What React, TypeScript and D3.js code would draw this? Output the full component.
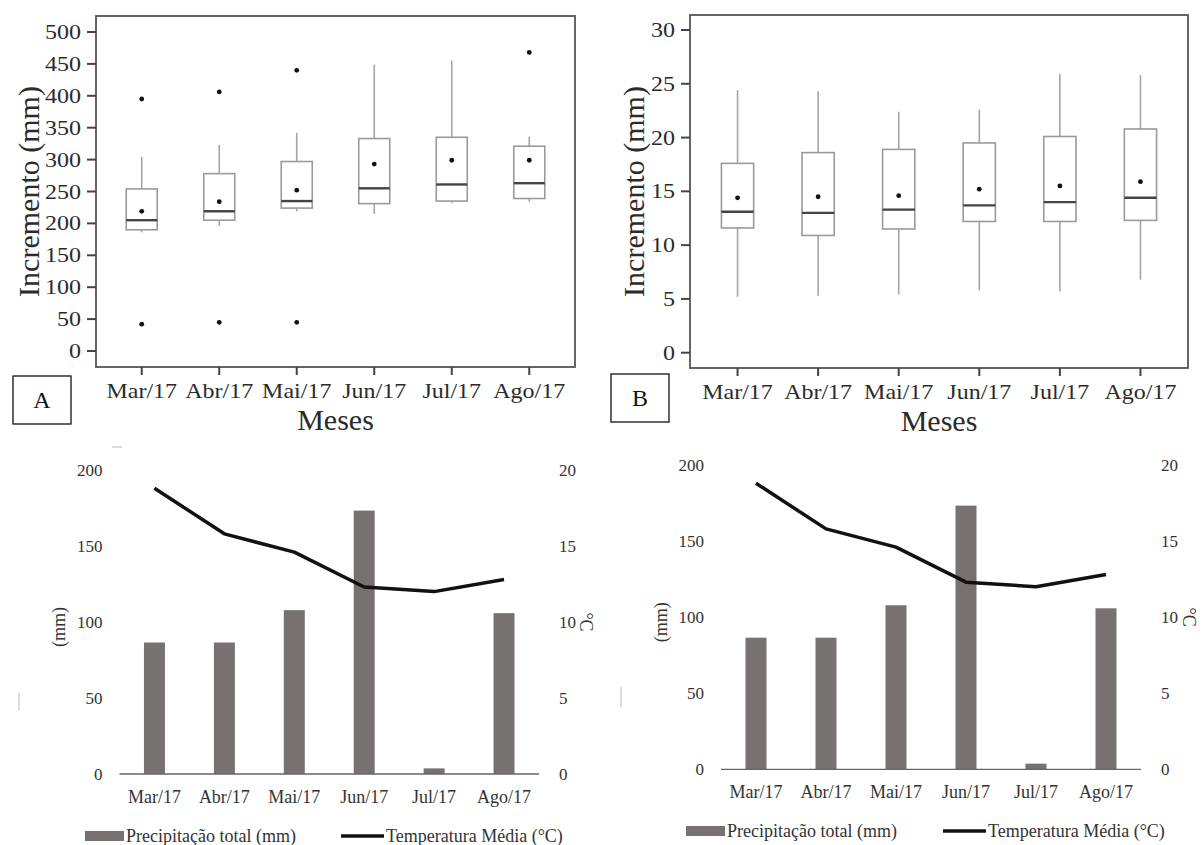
import React, { useRef, useEffect } from "react";
import * as d3 from "d3";

// Categories shared by all four panels
const months = ["Mar/17", "Abr/17", "Mai/17", "Jun/17", "Jul/17", "Ago/17"];

// Panel A — Incremento (mm), boxplot statistics
const aWhiskerLow = [186, 196, 219, 215, 232, 234];
const aQ1 = [190, 205, 224, 231, 235, 239];
const aMedian = [205, 219, 235, 255, 261, 263];
const aQ3 = [254, 278, 297, 333, 335, 321];
const aWhiskerHigh = [304, 323, 342, 449, 455, 336];
const aMean = [219, 234, 252, 293, 299, 299];
const aOutliers = [[395, 42], [406, 45], [440, 45], [], [], [468]];
const aTicks = [0, 50, 100, 150, 200, 250, 300, 350, 400, 450, 500];

// Panel B — Incremento (mm), boxplot statistics
const bWhiskerLow = [5.2, 5.3, 5.4, 5.8, 5.7, 6.8];
const bQ1 = [11.6, 10.9, 11.5, 12.2, 12.2, 12.3];
const bMedian = [13.1, 13.0, 13.3, 13.7, 14.0, 14.4];
const bQ3 = [17.6, 18.6, 18.9, 19.5, 20.1, 20.8];
const bWhiskerHigh = [24.4, 24.3, 22.4, 22.6, 25.9, 25.8];
const bMean = [14.4, 14.5, 14.6, 15.2, 15.5, 15.9];
const bOutliers = [[], [], [], [], [], []];
const bTicks = [0, 5, 10, 15, 20, 25, 30];

// Climate panels
const precipitacao = [86.5, 86.5, 107.8, 173.3, 3.7, 105.8];
const temperatura = [18.8, 15.8, 14.6, 12.3, 12.0, 12.8];
const precTicks = [0, 50, 100, 150, 200];
const tempTicks = [0, 5, 10, 15, 20];

const SERIF = "'Liberation Serif', 'DejaVu Serif', serif";

function stretchedText(g, x, y, txt, size, anchor, sx = 1.2) {
  g.append("g")
    .attr("transform", `translate(${x},${y}) scale(${sx},1)`)
    .append("text")
    .attr("text-anchor", anchor)
    .attr("font-family", SERIF)
    .attr("font-size", size)
    .attr("fill", "#2b2b2b")
    .text(txt);
}

function drawBoxPanel(svg, cfg) {
  const g = svg.append("g");
  const x = d3.scalePoint().domain(months).range([cfg.left, cfg.right]).padding(0.59);
  const y = d3.scaleLinear().domain(cfg.domain).range([cfg.y0, cfg.y1]);
  const bw = x.step() * 0.4;

  // frame
  g.append("rect")
    .attr("x", cfg.left)
    .attr("y", cfg.top)
    .attr("width", cfg.right - cfg.left)
    .attr("height", cfg.bottom - cfg.top)
    .attr("fill", "none")
    .attr("stroke", "#555")
    .attr("stroke-width", 1.8);

  // y ticks
  cfg.ticks.forEach((t) => {
    g.append("line")
      .attr("x1", cfg.left - 9)
      .attr("x2", cfg.left)
      .attr("y1", y(t))
      .attr("y2", y(t))
      .attr("stroke", "#444")
      .attr("stroke-width", 2);
    stretchedText(g, cfg.left - 15, y(t) + 7, String(t), 20, "end");
  });

  // x ticks
  months.forEach((m) => {
    g.append("line")
      .attr("x1", x(m))
      .attr("x2", x(m))
      .attr("y1", cfg.bottom)
      .attr("y2", cfg.bottom + 8)
      .attr("stroke", "#444")
      .attr("stroke-width", 2);
    stretchedText(g, x(m), cfg.bottom + 31, m, 20, "middle");
  });

  // boxes
  months.forEach((m, i) => {
    const cx = x(m);
    g.append("line")
      .attr("x1", cx).attr("x2", cx)
      .attr("y1", y(cfg.wl[i])).attr("y2", y(cfg.q1[i]))
      .attr("stroke", "#a5a5a5").attr("stroke-width", 1.6);
    g.append("line")
      .attr("x1", cx).attr("x2", cx)
      .attr("y1", y(cfg.q3[i])).attr("y2", y(cfg.wh[i]))
      .attr("stroke", "#a5a5a5").attr("stroke-width", 1.6);
    g.append("rect")
      .attr("x", cx - bw / 2)
      .attr("y", y(cfg.q3[i]))
      .attr("width", bw)
      .attr("height", y(cfg.q1[i]) - y(cfg.q3[i]))
      .attr("fill", "none")
      .attr("stroke", "#9a9a9a")
      .attr("stroke-width", 1.6);
    g.append("line")
      .attr("x1", cx - bw / 2).attr("x2", cx + bw / 2)
      .attr("y1", y(cfg.med[i])).attr("y2", y(cfg.med[i]))
      .attr("stroke", "#444").attr("stroke-width", 2.4);
    g.append("circle")
      .attr("cx", cx).attr("cy", y(cfg.mean[i])).attr("r", 2.4).attr("fill", "#111");
    cfg.out[i].forEach((o) => {
      g.append("circle").attr("cx", cx).attr("cy", y(o)).attr("r", 2.4).attr("fill", "#111");
    });
  });

  // axis titles
  const cxm = (cfg.left + cfg.right) / 2;
  g.append("text")
    .attr("x", cxm)
    .attr("y", cfg.bottom + 63)
    .attr("text-anchor", "middle")
    .attr("font-family", SERIF)
    .attr("font-size", 30)
    .attr("fill", "#2b2b2b")
    .text("Meses");
  const cym = (cfg.top + cfg.bottom) / 2;
  g.append("text")
    .attr("transform", `translate(${cfg.ylabX},${cym}) rotate(-90)`)
    .attr("text-anchor", "middle")
    .attr("dy", "0.35em")
    .attr("font-family", SERIF)
    .attr("font-size", 30)
    .attr("fill", "#2b2b2b")
    .text("Incremento (mm)");

  // panel letter
  g.append("rect")
    .attr("x", cfg.tag[0])
    .attr("y", cfg.tag[1])
    .attr("width", 58)
    .attr("height", 48)
    .attr("fill", "#fff")
    .attr("stroke", "#111")
    .attr("stroke-width", 1.3);
  g.append("text")
    .attr("x", cfg.tag[0] + 29)
    .attr("y", cfg.tag[1] + 32)
    .attr("text-anchor", "middle")
    .attr("font-family", SERIF)
    .attr("font-size", 24)
    .attr("fill", "#111")
    .text(cfg.letter);
}

function drawClimate(svg, cfg) {
  const g = svg.append("g").attr("font-family", SERIF).attr("fill", "#333");
  const x = d3.scaleBand().domain(months).range([cfg.left, cfg.right]).paddingInner(0.7).paddingOuter(0.35);
  const yP = d3.scaleLinear().domain([0, 200]).range([cfg.y0, cfg.y200]);
  const yT = d3.scaleLinear().domain([0, 20]).range([cfg.y0, cfg.y200]);

  g.selectAll("rect.bar")
    .data(precipitacao)
    .enter()
    .append("rect")
    .attr("class", "bar")
    .attr("x", (_d, i) => x(months[i]))
    .attr("y", (d) => yP(d))
    .attr("width", x.bandwidth())
    .attr("height", (d) => cfg.y0 - yP(d))
    .attr("fill", "#777172");

  g.append("line")
    .attr("x1", cfg.left).attr("x2", cfg.right)
    .attr("y1", cfg.y0).attr("y2", cfg.y0)
    .attr("stroke", "#666").attr("stroke-width", 1.3);

  const line = d3
    .line()
    .x((_d, i) => x(months[i]) + x.bandwidth() / 2)
    .y((d) => yT(d));
  g.append("path")
    .datum(temperatura)
    .attr("d", line)
    .attr("fill", "none")
    .attr("stroke", "#111")
    .attr("stroke-width", 3.5)
    .attr("stroke-linejoin", "round");

  precTicks.forEach((t) => {
    g.append("text")
      .attr("x", cfg.left - 17)
      .attr("y", yP(t))
      .attr("dy", "0.35em")
      .attr("text-anchor", "end")
      .attr("font-size", 17)
      .text(t);
  });
  tempTicks.forEach((t) => {
    g.append("text")
      .attr("x", cfg.right + 20)
      .attr("y", yT(t))
      .attr("dy", "0.35em")
      .attr("text-anchor", "start")
      .attr("font-size", 17)
      .text(t);
  });
  months.forEach((m) => {
    g.append("text")
      .attr("x", x(m) + x.bandwidth() / 2)
      .attr("y", cfg.y0 + 29)
      .attr("text-anchor", "middle")
      .attr("font-size", 18)
      .text(m);
  });

  const cy = (cfg.y0 + cfg.y200) / 2;
  g.append("text")
    .attr("transform", `translate(${cfg.mmX},${cy + 5}) rotate(-90)`)
    .attr("text-anchor", "middle")
    .attr("dy", "0.35em")
    .attr("font-size", 18)
    .text("(mm)");
  g.append("text")
    .attr("transform", `translate(${cfg.cX},${cy}) rotate(90)`)
    .attr("text-anchor", "middle")
    .attr("dy", "0.35em")
    .attr("font-size", 18)
    .text("°C");

  // legend
  const ly = cfg.legendY;
  g.append("rect")
    .attr("x", cfg.leg[0])
    .attr("y", ly - 5)
    .attr("width", 39)
    .attr("height", 10)
    .attr("fill", "#777172");
  g.append("text")
    .attr("x", cfg.leg[0] + 41)
    .attr("y", ly)
    .attr("dy", "0.35em")
    .attr("font-size", 18)
    .text("Precipitação total (mm)");
  g.append("line")
    .attr("x1", cfg.leg[1]).attr("x2", cfg.leg[1] + 43)
    .attr("y1", ly).attr("y2", ly)
    .attr("stroke", "#111").attr("stroke-width", 3.5);
  g.append("text")
    .attr("x", cfg.leg[1] + 45)
    .attr("y", ly)
    .attr("dy", "0.35em")
    .attr("font-size", 18)
    .text("Temperatura Média (°C)");

  // faint scan marks
  cfg.marks.forEach((mk) => {
    g.append("line")
      .attr("x1", mk[0]).attr("y1", mk[1]).attr("x2", mk[2]).attr("y2", mk[3])
      .attr("stroke", "#cfcfcf").attr("stroke-width", 1.5);
  });
}

export default function App() {
  const ref = useRef(null);

  useEffect(() => {
    const svg = d3.select(ref.current);
    svg.selectAll("*").remove();

    drawBoxPanel(svg, {
      left: 96, right: 575, top: 16, bottom: 367,
      domain: [0, 500], y0: 351, y1: 32,
      ticks: aTicks,
      wl: aWhiskerLow, q1: aQ1, med: aMedian, q3: aQ3, wh: aWhiskerHigh, mean: aMean, out: aOutliers,
      ylabX: 28, tag: [13, 376], letter: "A",
    });
    drawBoxPanel(svg, {
      left: 690, right: 1188, top: 15, bottom: 368,
      domain: [0, 30], y0: 352.7, y1: 30,
      ticks: bTicks,
      wl: bWhiskerLow, q1: bQ1, med: bMedian, q3: bQ3, wh: bWhiskerHigh, mean: bMean, out: bOutliers,
      ylabX: 633, tag: [611, 374], letter: "B",
    });
    drawClimate(svg, {
      left: 119.5, right: 539, y0: 774, y200: 470,
      mmX: 59, cX: 586, legendY: 836, leg: [85, 341],
      marks: [[19, 693, 19, 710], [112, 447, 122, 447]],
    });
    drawClimate(svg, {
      left: 721, right: 1141, y0: 769.3, y200: 465,
      mmX: 661, cX: 1189, legendY: 831, leg: [686, 943],
      marks: [[621, 687, 621, 707]],
    });

    return () => svg.selectAll("*").remove();
  }, []);

  return (
    <svg
      ref={ref}
      width={1201}
      height={845}
      style={{ position: "absolute", left: 0, top: 0, background: "#fff", display: "block" }}
    />
  );
}
